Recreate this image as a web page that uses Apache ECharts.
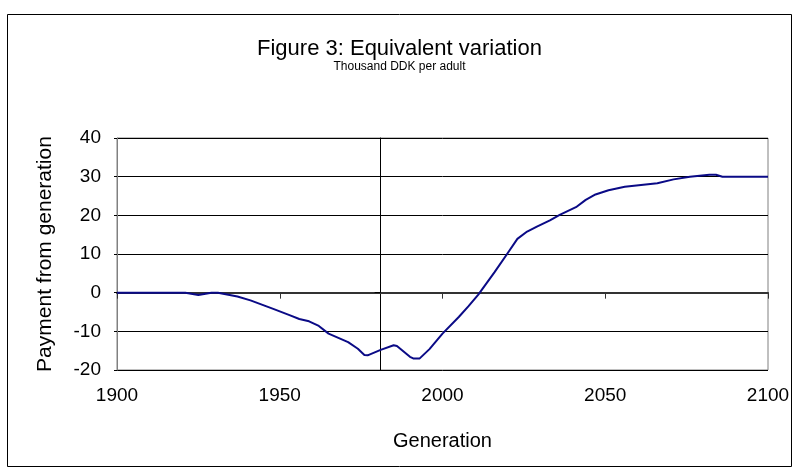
<!DOCTYPE html>
<html>
<head>
<meta charset="utf-8">
<script src="https://cdn.jsdelivr.net/npm/echarts@6/dist/echarts.min.js"></script>
<style>
html,body{margin:0;padding:0;background:#fff;}
#chart{width:799px;height:475px;}
</style>
</head>
<body>
<div id="chart"></div>
<script>
// Data
var years = [1900, 1921, 1925, 1929, 1931, 1937, 1941, 1948, 1953, 1956, 1959, 1962, 1965, 1971, 1974, 1976, 1977, 1981, 1985, 1986, 1990, 1991, 1993, 1996, 2000, 2005, 2008, 2011, 2016, 2020, 2023, 2026, 2029, 2033, 2036, 2041, 2044, 2047, 2051, 2056, 2066, 2071, 2076, 2082, 2084, 2086, 2100];
var payment = [0, 0, -0.6, 0, 0, -1.0, -2.0, -4.2, -5.8, -6.8, -7.4, -8.6, -10.6, -12.8, -14.5, -16.1, -16.2, -14.8, -13.6, -13.8, -16.6, -17.0, -17.0, -14.6, -10.6, -6.3, -3.5, -0.5, 5.3, 10.2, 13.9, 15.8, 17.1, 18.7, 20.1, 22.1, 24.0, 25.4, 26.5, 27.4, 28.3, 29.3, 30.0, 30.5, 30.5, 30.0, 30.0];
var xTicks = [1900, 1950, 2000, 2050, 2100];
var yTicks = [-20, -10, 0, 10, 20, 30, 40];
var crossYear = 1981;

var titleText = 'Figure 3: Equivalent variation';
var subtitleText = 'Thousand DDK per adult';
var yName = 'Payment from generation';
var xName = 'Generation';

var gridLeft = 117, gridTop = 138, gridW = 651, gridH = 232;
var xMin = xTicks[0], xMax = xTicks[xTicks.length - 1];
var yMin = yTicks[0], yMax = yTicks[yTicks.length - 1];
var crossOffset = -(crossYear - xMin) / (xMax - xMin) * gridW;

var chart = echarts.init(document.getElementById('chart'), null, {renderer: 'canvas'});
var font = 'Liberation Sans, Arial, sans-serif';
chart.setOption({
  animation: false,
  backgroundColor: '#ffffff',
  title: {
    text: titleText,
    subtext: subtitleText,
    left: 'center',
    top: 33,
    itemGap: 1,
    textStyle: {fontFamily: font, fontSize: 22, fontWeight: 'normal', color: '#000'},
    subtextStyle: {fontFamily: font, fontSize: 12, color: '#000'}
  },
  graphic: [{
    type: 'rect',
    shape: {x: 7.5, y: 14.5, width: 784, height: 452},
    style: {fill: 'none', stroke: '#000', lineWidth: 1},
    silent: true, z: -1
  }],
  grid: {
    left: gridLeft, top: gridTop, width: gridW, height: gridH,
    show: true, borderColor: '#808080', borderWidth: 1, backgroundColor: 'transparent'
  },
  xAxis: {
    type: 'value', min: xMin, max: xMax, interval: 50,
    name: xName, nameLocation: 'middle', nameGap: 61,
    nameTextStyle: {fontFamily: font, fontSize: 20, color: '#000'},
    axisLine: {show: true, lineStyle: {color: '#333', width: 2}},
    axisTick: {show: true, length: 6, lineStyle: {color: '#333'}},
    axisLabel: {fontFamily: font, fontSize: 19, color: '#000', margin: 16,
      formatter: function (v) { return String(v); }},
    splitLine: {show: false}
  },
  yAxis: [{
    type: 'value', min: yMin, max: yMax, interval: 10, position: 'left',
    name: yName, nameLocation: 'middle', nameGap: 61, nameRotate: 90,
    nameTextStyle: {fontFamily: font, fontSize: 21, color: '#000'},
    axisLine: {show: true, lineStyle: {color: '#808080', width: 1}},
    axisTick: {show: true, length: 3, lineStyle: {color: '#000'}},
    axisLabel: {fontFamily: font, fontSize: 19, color: '#000', margin: 16},
    splitLine: {show: true, lineStyle: {color: '#000', width: 1}}
  }, {
    type: 'value', min: yMin, max: yMax, interval: 10, position: 'left',
    offset: crossOffset,
    axisLine: {show: true, onZero: false, lineStyle: {color: '#000', width: 1}},
    axisTick: {show: true, length: 6, lineStyle: {color: '#000'}},
    axisLabel: {show: false},
    splitLine: {show: false}
  }],
  series: [{
    type: 'line',
    data: years.map(function (y, i) { return [y, payment[i]]; }),
    showSymbol: false,
    smooth: false,
    lineStyle: {color: '#0a0a86', width: 2},
    z: 5
  }]
});
</script>
</body>
</html>
